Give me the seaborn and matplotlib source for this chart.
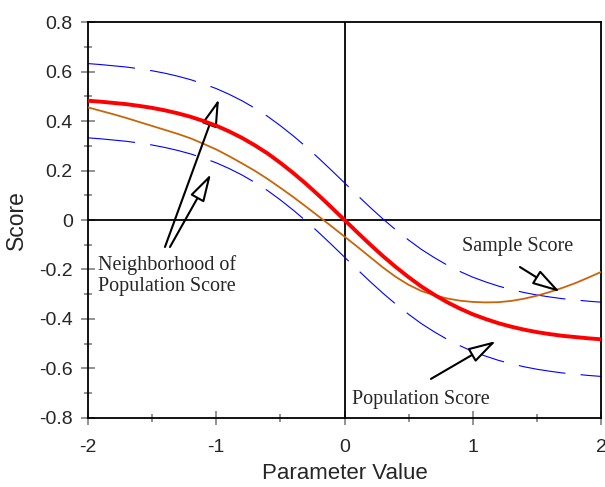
import numpy as np
import pandas as pd
import seaborn as sns
import matplotlib
matplotlib.use("Agg")
from matplotlib import pyplot as plt
from matplotlib.ticker import MultipleLocator

# parameter grid (step 0.1) and curves
param = [-2.0, -1.9, -1.8, -1.7, -1.6, -1.5, -1.4, -1.3, -1.2, -1.1, -1.0,
         -0.9, -0.8, -0.7, -0.6, -0.5, -0.4, -0.3, -0.2, -0.1, 0.0,
         0.1, 0.2, 0.3, 0.4, 0.5, 0.6, 0.7, 0.8, 0.9, 1.0,
         1.1, 1.2, 1.3, 1.4, 1.5, 1.6, 1.7, 1.8, 1.9, 2.0]
population = [0.482, 0.478, 0.473, 0.468, 0.461, 0.453, 0.443, 0.431, 0.417, 0.400, 0.381,
              0.358, 0.332, 0.302, 0.269, 0.231, 0.190, 0.146, 0.099, 0.050, 0.0,
              -0.050, -0.099, -0.146, -0.190, -0.231, -0.269, -0.302, -0.332, -0.358, -0.381,
              -0.400, -0.417, -0.431, -0.443, -0.453, -0.461, -0.468, -0.473, -0.478, -0.482]
upper = [0.632, 0.628, 0.623, 0.618, 0.611, 0.603, 0.593, 0.581, 0.567, 0.550, 0.531,
         0.508, 0.482, 0.452, 0.419, 0.381, 0.340, 0.296, 0.249, 0.200, 0.150,
         0.100, 0.051, 0.004, -0.040, -0.081, -0.119, -0.152, -0.182, -0.208, -0.231,
         -0.250, -0.267, -0.281, -0.293, -0.303, -0.311, -0.318, -0.323, -0.328, -0.332]
lower = [0.332, 0.328, 0.323, 0.318, 0.311, 0.303, 0.293, 0.281, 0.267, 0.250, 0.231,
         0.208, 0.182, 0.152, 0.119, 0.081, 0.040, -0.004, -0.051, -0.100, -0.150,
         -0.200, -0.249, -0.296, -0.340, -0.381, -0.419, -0.452, -0.482, -0.508, -0.531,
         -0.550, -0.567, -0.581, -0.593, -0.603, -0.611, -0.618, -0.623, -0.628, -0.632]
sample = [0.455, 0.441, 0.427, 0.412, 0.396, 0.380, 0.364, 0.348, 0.330, 0.308, 0.285,
          0.258, 0.229, 0.199, 0.166, 0.130, 0.093, 0.054, 0.014, -0.026, -0.067,
          -0.108, -0.150, -0.192, -0.230, -0.262, -0.287, -0.304, -0.317, -0.326, -0.331,
          -0.333, -0.332, -0.327, -0.318, -0.306, -0.291, -0.274, -0.255, -0.233, -0.210]

xticks = [-2, -1, 0, 1, 2]
xtick_labels = ["-2", "-1", "0", "1", "2"]
yticks = [0.8, 0.6, 0.4, 0.2, 0.0, -0.2, -0.4, -0.6, -0.8]
ytick_labels = ["0.8", "0.6", "0.4", "0.2", "0", "-0.2", "-0.4", "-0.6", "-0.8"]

df = pd.DataFrame({"x": param, "pop": population, "up": upper,
                   "lo": lower, "sample": sample})

sns.set_style("white")
plt.rcParams["font.family"] = ["Liberation Sans", "DejaVu Sans"]
plt.rcParams["lines.scale_dashes"] = False

fig = plt.figure(figsize=(6.05, 4.87), dpi=100)
ax = fig.add_axes([0.1455, 0.1417, 0.8479, 0.8131])

# zero lines
ax.axhline(0, color="black", lw=1.3, zorder=1)
ax.axvline(0, color="black", lw=1.3, zorder=1)

sns.lineplot(data=df, x="x", y="up", ax=ax, color="#0000FF", lw=0.8,
             linestyle=(0, (34, 11)), zorder=2)
sns.lineplot(data=df, x="x", y="lo", ax=ax, color="#0000FF", lw=0.8,
             linestyle=(0, (34, 11)), zorder=2)
sns.lineplot(data=df, x="x", y="sample", ax=ax, color="#C8650A", lw=1.3, zorder=3)
sns.lineplot(data=df, x="x", y="pop", ax=ax, color="#FF0000", lw=2.8, zorder=4)

ax.set_xlim(-2, 2)
ax.set_ylim(-0.8, 0.8)
ax.set_xticks(xticks)
ax.set_xticklabels(xtick_labels)
ax.set_yticks(yticks)
ax.set_yticklabels(ytick_labels)
ax.xaxis.set_minor_locator(MultipleLocator(0.5))
ax.yaxis.set_minor_locator(MultipleLocator(0.1))
ax.tick_params(which="major", direction="inout", length=10, width=1.2,
               color="#808080", labelsize=14, pad=6)
ax.tick_params(which="minor", direction="inout", length=6, width=1.2,
               color="#808080")
ax.tick_params(axis="x", which="major", pad=10)
ax.tick_params(left=True, bottom=True, which="both")
for s in ax.spines.values():
    s.set_color("black")
    s.set_linewidth(1.3)

ax.set_xlabel("Parameter Value", fontsize=16, labelpad=5)
ax.set_ylabel("Score", fontsize=16.5, labelpad=8)

# annotations
serif = ["Liberation Serif", "DejaVu Serif"]
arrow = dict(arrowstyle="-|>,head_length=0.85,head_width=0.24", fc="white",
             ec="black", lw=1.5, mutation_scale=20, shrinkA=0, shrinkB=0)
ax.text(-1.922, -0.226, "Neighborhood of\nPopulation Score", family=serif,
        fontsize=14.5, va="center", ha="left", linespacing=1.15)
ax.annotate("", xy=(-0.979, 0.489), xytext=(-1.400, -0.109), arrowprops=arrow)
ax.annotate("", xy=(-1.041, 0.186), xytext=(-1.361, -0.109), arrowprops=arrow)
ax.text(0.916, -0.109, "Sample Score", family=serif, fontsize=14.5,
        va="center", ha="left")
ax.annotate("", xy=(1.680, -0.291), xytext=(1.368, -0.190), arrowprops=arrow)
ax.text(0.058, -0.727, "Population Score", family=serif, fontsize=14.5,
        va="center", ha="left")
ax.annotate("", xy=(1.181, -0.489), xytext=(0.674, -0.642), arrowprops=arrow)

fig.savefig("out.png", dpi=100)
